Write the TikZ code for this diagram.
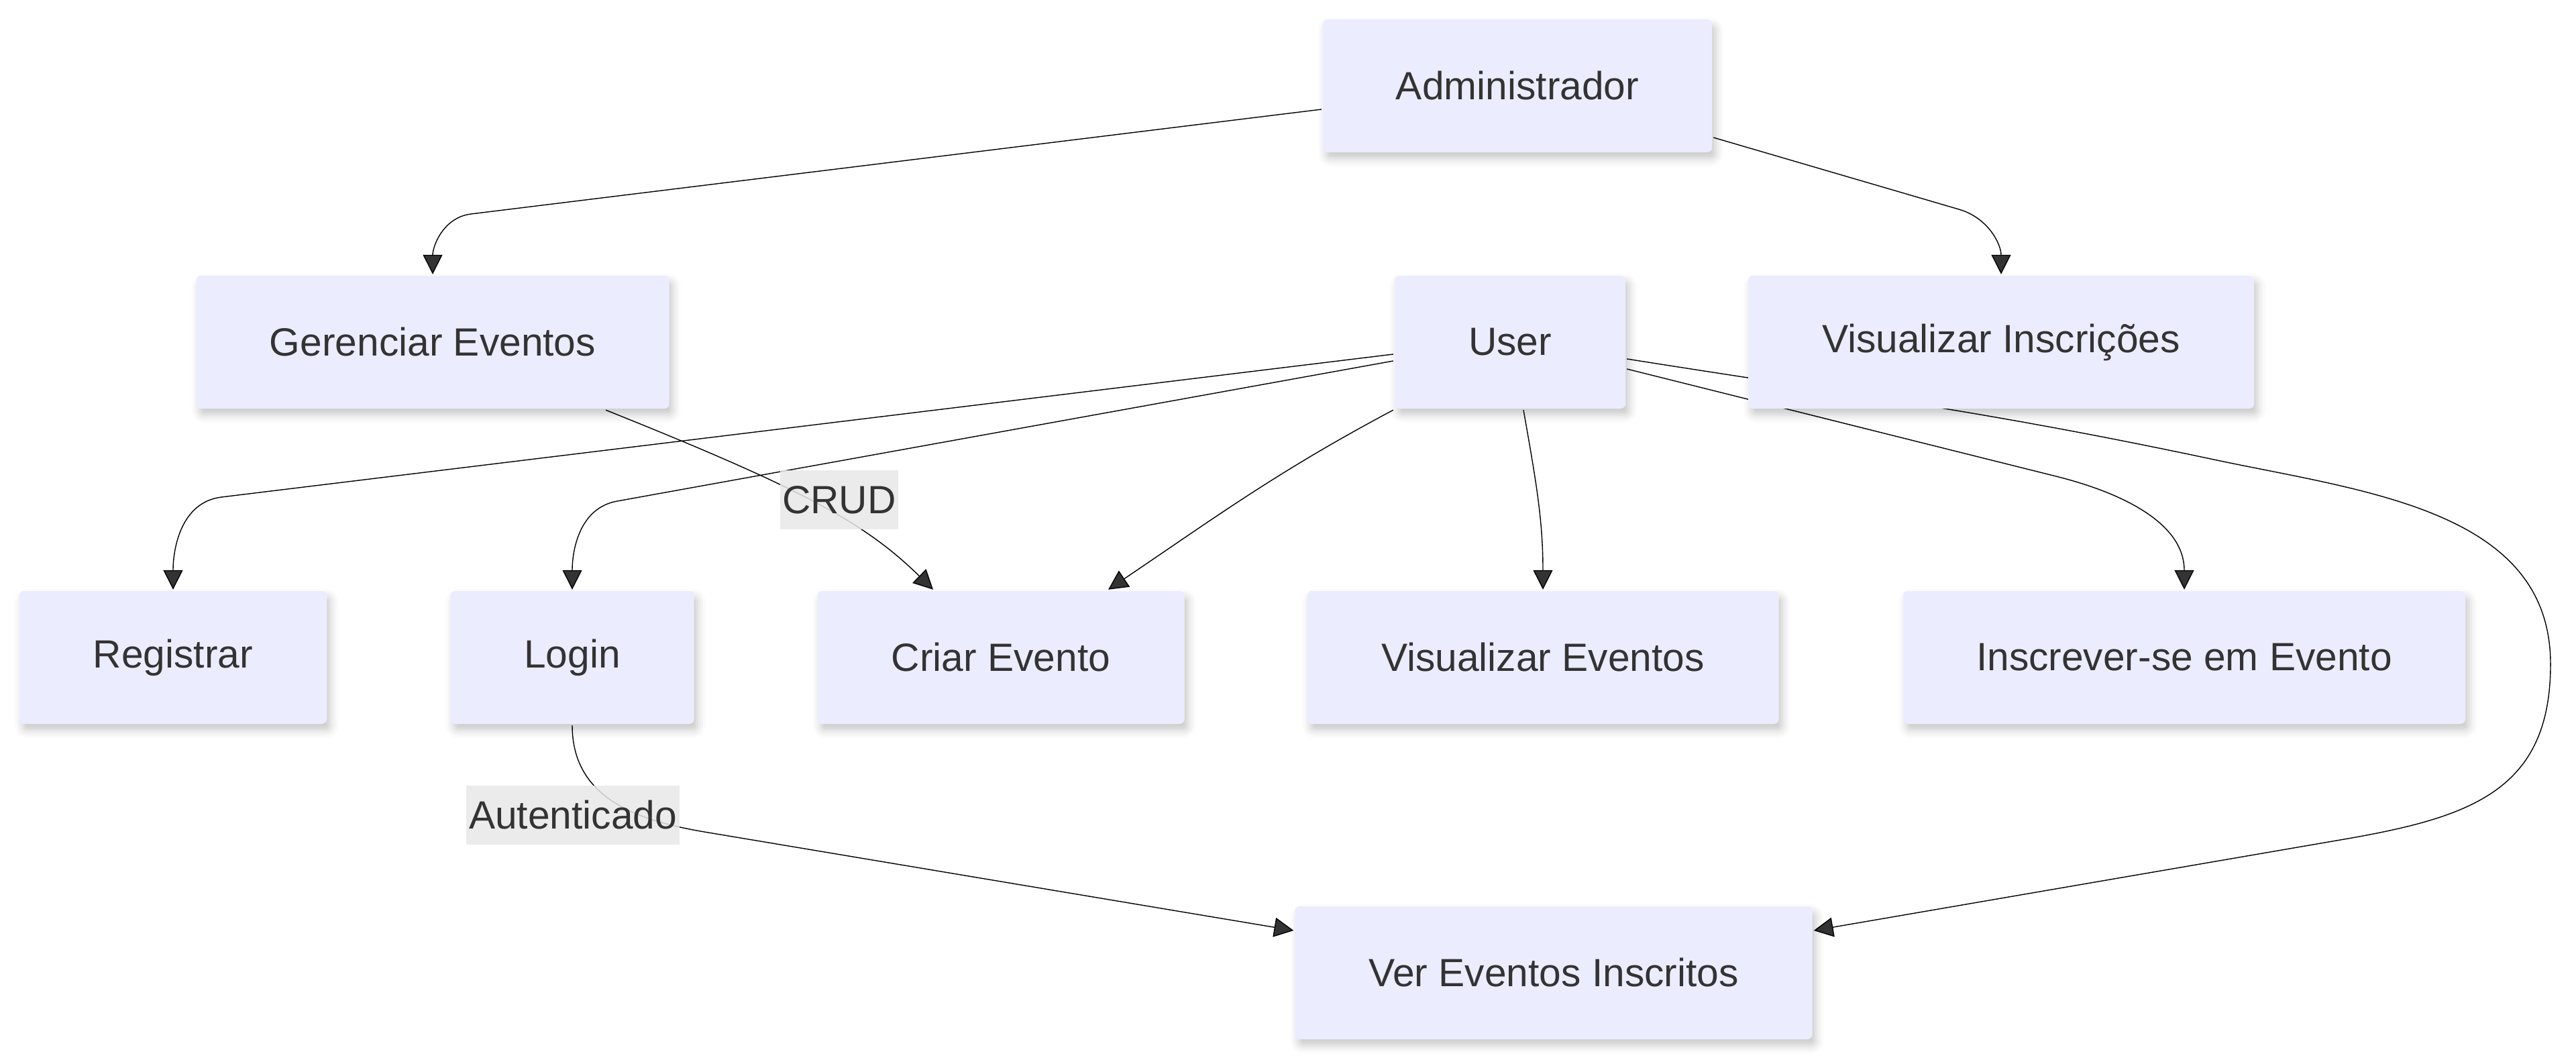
\documentclass[tikz,border=0pt]{standalone}
\usepackage{fontspec}
\setmainfont{Liberation Sans}
\usetikzlibrary{arrows.meta,shadows.blur,backgrounds}
\definecolor{boxfill}{HTML}{ECECFF}
\definecolor{inkgray}{HTML}{333333}
\definecolor{labelfill}{HTML}{E8E8E8}

\begin{document}
\begin{tikzpicture}[-{Triangle[length=0.29cm,width=0.29cm]},draw=inkgray,line width=1.25pt]
    \tikzstyle{usecase}=[rectangle,fill=boxfill,text=inkgray,rounded corners=2pt,minimum height=1.98cm,inner sep=0pt,font=\fontsize{16.7}{20}\selectfont,blur shadow={shadow xshift=0.05cm,shadow yshift=-0.09cm,shadow blur radius=0.12cm,shadow opacity=22}]
    \tikzstyle{edgelabel}=[rectangle,fill=labelfill,fill opacity=0.85,text opacity=1,text=inkgray,inner xsep=1pt,inner ysep=0pt,minimum height=0.88cm,font=\fontsize{16.7}{20}\selectfont]

    \useasboundingbox (0,0) rectangle (38.4,-15.82);

    % actor nodes
    \node[usecase,minimum width=5.80cm] (admin) at (22.62,-1.28) {Administrador};
    \node[usecase,minimum width=3.44cm] (user) at (22.51,-5.10) {User};

    % admin use cases
    \node[usecase,minimum width=7.05cm] (gerenciar) at (6.45,-5.10) {Gerenciar Eventos};
    \node[usecase,minimum width=7.54cm] (visinsc) at (29.83,-5.10) {Visualizar Inscrições};

    % user use cases
    \foreach \name/\txt/\x/\w in {registrar/Registrar/2.58/4.58, login/Login/8.53/3.63,
        criar/Criar Evento/14.92/5.47, viseventos/Visualizar Eventos/23.00/7.03,
        inscrever/Inscrever-se em Evento/32.56/8.38}
    \node[usecase,minimum width=\w cm] (\name) at (\x,-9.80) {\txt};

    \node[usecase,minimum width=7.71cm] (vereventos) at (23.16,-14.50) {Ver Eventos Inscritos};

    % connectors go under the boxes
    \begin{pgfonlayer}{background}
    \draw ([yshift=-0.35cm]admin.west) -- (7.02,-3.19) to[out=187,in=90] (gerenciar.north);
    \draw ([yshift=-0.77cm]admin.east) -- (29.2,-3.12) to[out=-16,in=90] (visinsc.north);

    \draw ([xshift=2.58cm]gerenciar.south) .. controls (12.0,-7.3) and (12.9,-7.8) .. ([xshift=-1.01cm]criar.north);
    \draw (login.south) .. controls (8.53,-11.9) and (9.5,-12.23) .. (10.5,-12.40) -- ([yshift=0.63cm]vereventos.west);

    \draw ([yshift=-0.18cm]user.west) -- (3.3,-7.41) to[out=187,in=90] (registrar.north);
    \draw ([yshift=-0.28cm]user.west) -- (9.2,-7.47) to[out=190,in=90] (login.north);
    \draw (user.south west) to[out=208,in=34] ([xshift=1.6cm]criar.north);
    \draw ([xshift=0.2cm]user.south) to[out=-80,in=90] (viseventos.north);
    \draw ([yshift=-0.40cm]user.east) -- (30.65,-7.10) to[out=-14,in=90] (inscrever.north);
    \draw ([yshift=-0.25cm]user.east) to[out=-9,in=168] (33.0,-6.85) to[out=-12,in=90] (38.02,-9.9)
        to[out=-90,in=10,looseness=1.2] (35.0,-12.5) -- ([yshift=0.63cm]vereventos.east);
    \end{pgfonlayer}

    % edge labels
    \node[edgelabel] (crud) at (12.51,-7.45) {CRUD};
    \node[edgelabel] (auth) at (8.54,-12.15) {Autenticado};
\end{tikzpicture}
\end{document}
